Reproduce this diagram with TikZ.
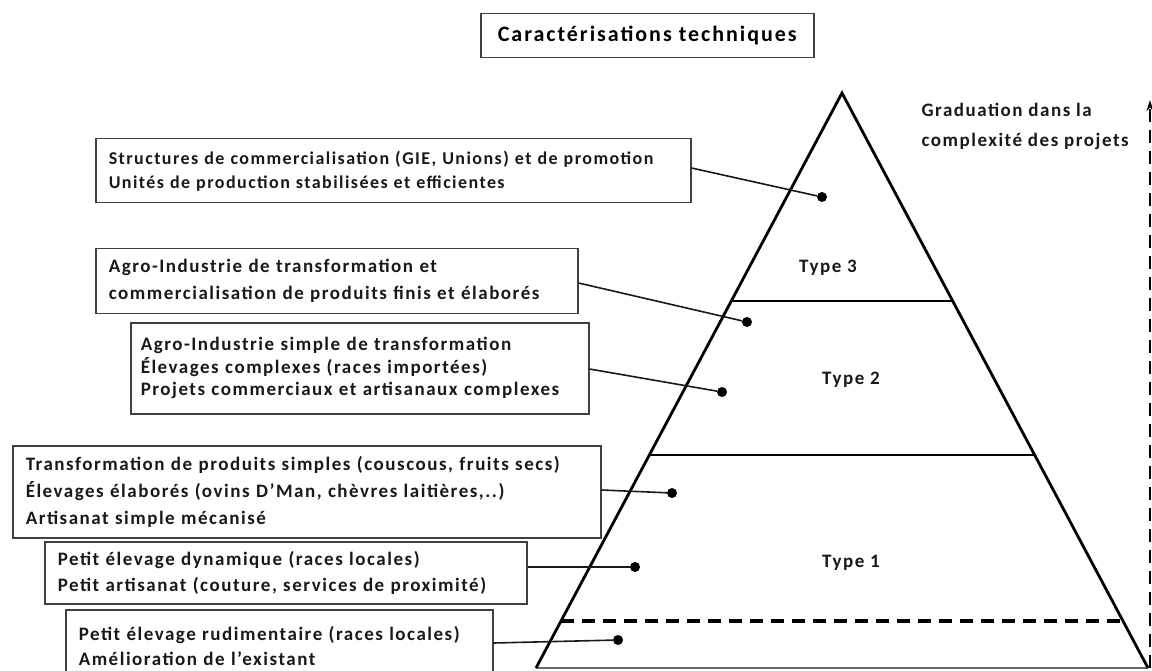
\documentclass[tikz,border=0pt]{standalone}
\usepackage{fontspec}
\setmainfont{Carlito}
\newfontfamily\lsfont[LetterSpace=8]{Carlito}
\newfontfamily\ttlfont[LetterSpace=9]{Carlito}
\usetikzlibrary{arrows.meta,calc}
\begin{document}
\begin{tikzpicture}[x=1pt,y=-1pt,
  txt/.style={font=\lsfont\bfseries\fontsize{19}{23}\selectfont, text=black!90},
  tbox/.style={draw=black!75, line width=1.5pt, anchor=north west, inner xsep=13pt, inner ysep=0pt, align=left, txt},
  conn/.style={line width=1.6pt, black!90},
  dot/.style={circle, fill=black, inner sep=0pt, minimum size=10pt},
  pyr/.style={line width=2.8pt, black},
  dashline/.style={line width=3.5pt, dash pattern=on 13pt off 8pt}
]
\useasboundingbox (0,0) rectangle (1152,671);
% title
\node[draw=black!75, line width=1.5pt, minimum width=333pt, minimum height=44pt, anchor=north west, font=\ttlfont\bfseries\fontsize{22}{26}\selectfont] (title) at (480,13) {Caractérisations techniques};
% pyramid
\coordinate (apex) at (842,93);
\coordinate (bl) at (536,668);
\coordinate (br) at (1148,668);
\draw[black!60, line width=1.5pt] (bl) -- (br);
\draw[pyr, line join=miter] (bl) -- (apex) -- (br);
\draw[pyr] ($(bl)!{(668-301)/575}!(apex)$) -- ($(br)!{(668-301)/575}!(apex)$);
\draw[pyr] ($(bl)!{(668-455)/575}!(apex)$) -- ($(br)!{(668-455)/575}!(apex)$);
\draw[dashline] ($(bl)!{(668-621)/575}!(apex)$) -- ($(br)!{(668-621)/575}!(apex)$);
% graduation arrow
\coordinate (gbot) at (1150,668);
\coordinate (gtop) at (1150,100);
\draw[line width=2.6pt, dash pattern=on 13pt off 8pt, -{Stealth[length=11pt,width=7pt]}] (gbot) -- (gtop);
\node[txt, anchor=north west, align=left, font=\lsfont\bfseries\fontsize{19}{30}\selectfont] (grad) at (918,100) {Graduation dans la\\complexité des projets};
% type labels
\node[txt] (t3) at (828,268) {Type 3};
\node[txt] (t2) at (851,380) {Type 2};
\node[txt] (t1) at (851,563) {Type 1};
% boxes
\node[tbox, minimum width=595pt, minimum height=64pt, text width=569pt, font=\lsfont\bfseries\fontsize{18}{24}\selectfont] (bA) at (95,138) {Structures de commercialisation (GIE, Unions) et de promotion\\Unités de production stabilisées et efficientes};
\node[tbox, minimum width=482pt, minimum height=65pt, text width=456pt, font=\lsfont\bfseries\fontsize{19}{27}\selectfont] (bB) at (95,248) {Agro-Industrie de transformation et\\commercialisation de produits finis et élaborés};
\node[tbox, minimum width=458pt, minimum height=91pt, text width=438pt, inner xsep=10pt, font=\lsfont\bfseries\fontsize{19}{22.5}\selectfont] (bC) at (130,322) {Agro-Industrie simple de transformation\\Élevages complexes (races importées)\\Projets commerciaux et artisanaux complexes};
\node[tbox, minimum width=588pt, minimum height=92pt, text width=562pt, font=\lsfont\bfseries\fontsize{19}{27}\selectfont] (bD) at (12,445) {Transformation de produits simples (couscous, fruits secs)\\Élevages élaborés (ovins D’Man, chèvres laitières,..)\\Artisanat simple mécanisé};
\node[tbox, minimum width=482pt, minimum height=62pt, text width=456pt, font=\lsfont\bfseries\fontsize{19}{26}\selectfont] (bE) at (44,541) {Petit élevage dynamique (races locales)\\Petit artisanat (couture, services de proximité)};
\node[tbox, minimum width=427pt, minimum height=72pt, text width=401pt, font=\lsfont\bfseries\fontsize{19}{25}\selectfont] (bF) at (65,609) {Petit élevage rudimentaire (races locales)\\Amélioration de l’existant};
% dots
\node[dot] (d1) at (822,197) {};
\node[dot] (d2) at (747,322) {};
\node[dot] (d3) at (722,392) {};
\node[dot] (d4) at (672,493) {};
\node[dot] (d5) at (635,567) {};
\node[dot] (d6) at (618,640) {};
% connectors
\draw[conn] ([yshift=-30pt]bA.north east) -- (d1);
\draw[conn] ([yshift=-35pt]bB.north east) -- (d2);
\draw[conn] ([yshift=-47pt]bC.north east) -- (d3);
\draw[conn] ([yshift=-45pt]bD.north east) -- (d4);
\draw[conn] ([yshift=-26pt]bE.north east) -- (d5);
\draw[conn] ([yshift=-34pt]bF.north east) -- (d6);
\end{tikzpicture}
\end{document}
